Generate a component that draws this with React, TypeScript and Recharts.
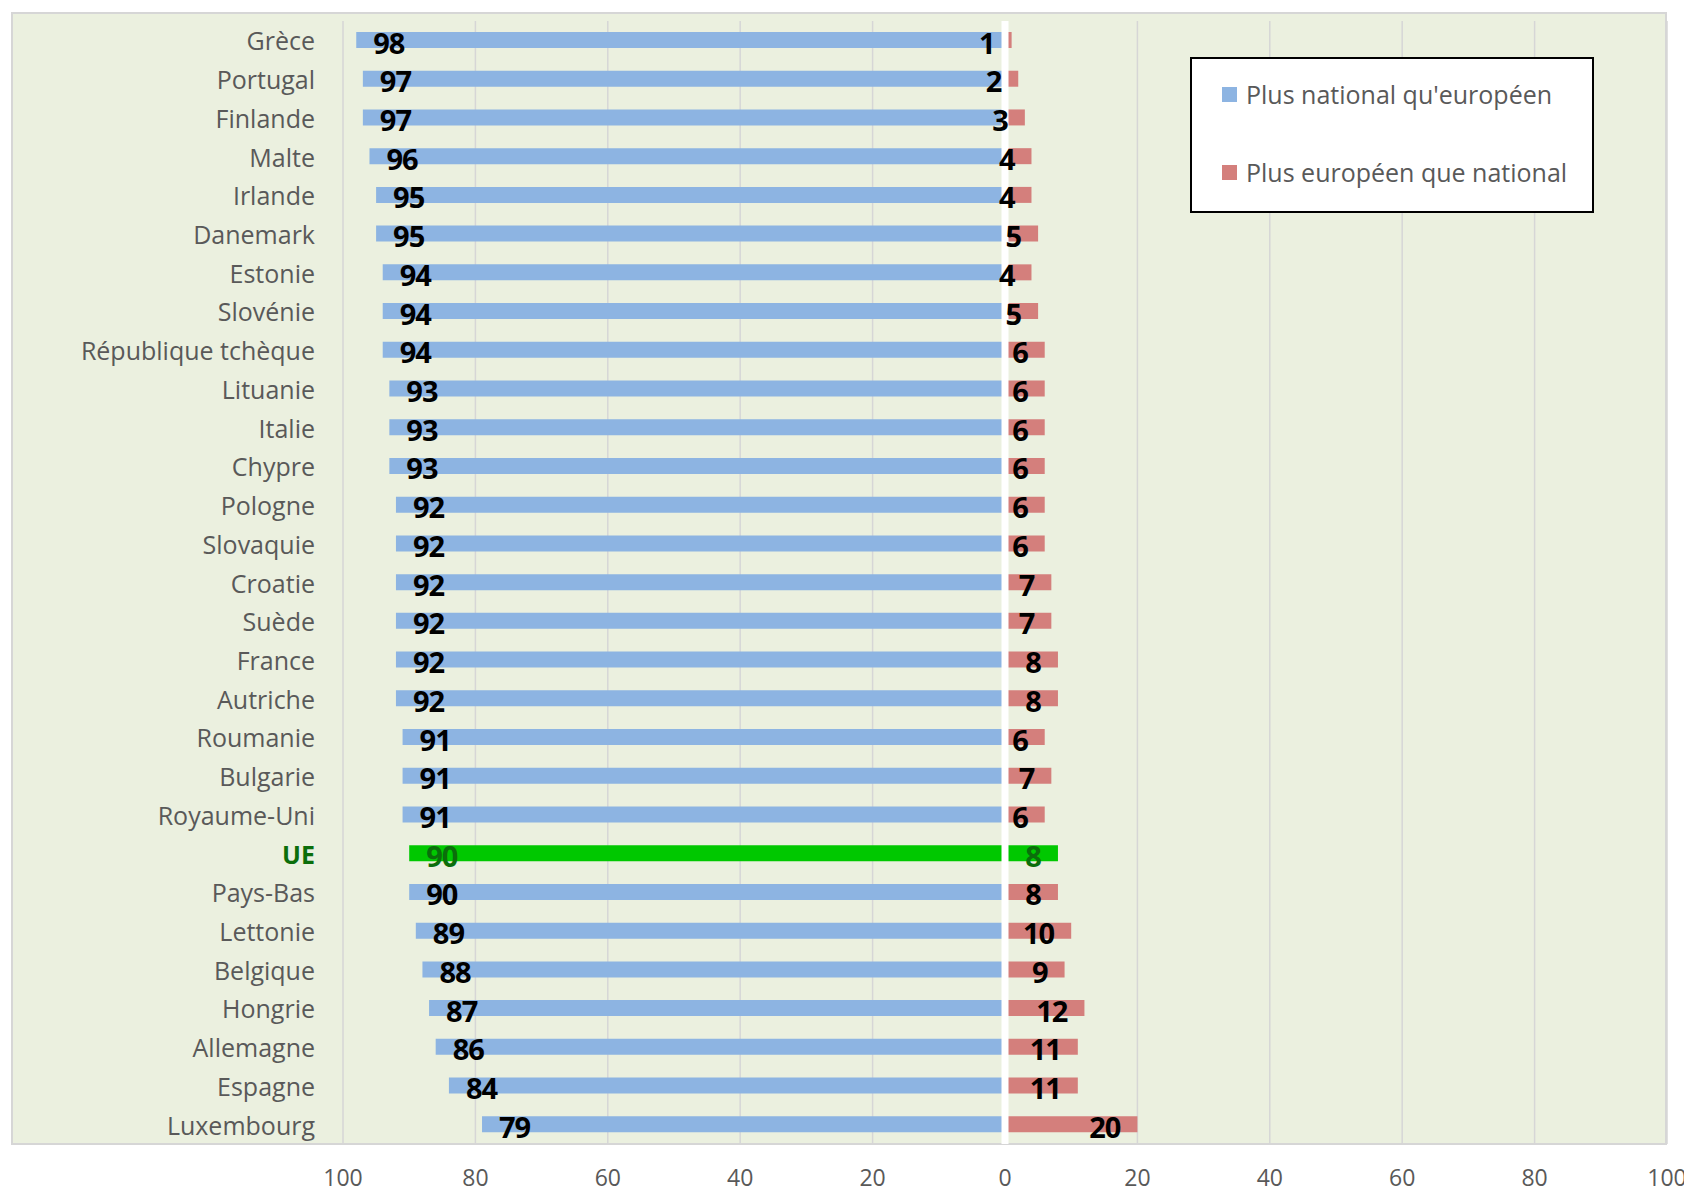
import React from 'react';
import {
  BarChart,
  Bar,
  XAxis,
  YAxis,
  CartesianGrid,
  ReferenceLine,
  LabelList,
  Cell,
  Legend,
} from 'recharts';

const categories = [
  'Grèce', 'Portugal', 'Finlande', 'Malte', 'Irlande', 'Danemark', 'Estonie', 'Slovénie',
  'République tchèque', 'Lituanie', 'Italie', 'Chypre', 'Pologne', 'Slovaquie', 'Croatie',
  'Suède', 'France', 'Autriche', 'Roumanie', 'Bulgarie', 'Royaume-Uni', 'UE', 'Pays-Bas',
  'Lettonie', 'Belgique', 'Hongrie', 'Allemagne', 'Espagne', 'Luxembourg',
];
const nationalValues = [
  98, 97, 97, 96, 95, 95, 94, 94, 94, 93, 93, 93, 92, 92, 92, 92, 92, 92, 91, 91, 91, 90, 90,
  89, 88, 87, 86, 84, 79,
];
const europeanValues = [
  1, 2, 3, 4, 4, 5, 4, 5, 6, 6, 6, 6, 6, 6, 7, 7, 8, 8, 6, 7, 6, 8, 8, 10, 9, 12, 11, 11, 20,
];
const xTicks = [-100, -80, -60, -40, -20, 0, 20, 40, 60, 80, 100];
const seriesNames = ["Plus national qu'européen", 'Plus européen que national'];
const highlight = 'UE';

const BLUE = '#8DB4E2';
const RED = '#D47F7C';
const GREEN = '#00C800';
const DARK_GREEN = '#0B6E0B';
const GRAY_TEXT = '#595959';
const FONT = "'Open Sans', sans-serif";

const data = categories.map((name, i) => ({
  name,
  national: -nationalValues[i],
  european: europeanValues[i],
}));

const CategoryTick = (props: any) => {
  const { x, y, payload } = props;
  const isHi = payload.value === highlight;
  return (
    <text
      x={x}
      y={y}
      textAnchor="end"
      dominantBaseline="central"
      fontFamily={FONT}
      fontSize={25}
      fontWeight={isHi ? 700 : 400}
      fill={isHi ? DARK_GREEN : GRAY_TEXT}
    >
      {payload.value}
    </text>
  );
};

const makeLabel = (side: 'left' | 'right') => (props: any) => {
  const { x, y, width, height, value, index } = props;
  const left = Math.min(x, x + width);
  const right = Math.max(x, x + width);
  const isHi = categories[index] === highlight;
  const tx = side === 'left' ? left + 17 : right - 17;
  return (
    <text
      x={tx}
      y={y + height / 2 + 2}
      textAnchor={side === 'left' ? 'start' : 'end'}
      dominantBaseline="central"
      fontFamily={FONT}
      fontSize={29}
      fontWeight={700}
      letterSpacing={-1}
      fill={isHi ? DARK_GREEN : '#000'}
    >
      {Math.abs(Number(value))}
    </text>
  );
};

const LegendBox = () => (
  <div
    style={{
      width: '100%',
      height: '100%',
      boxSizing: 'border-box',
      border: '2px solid #000',
      background: '#fff',
      fontFamily: FONT,
      fontSize: 25,
      color: GRAY_TEXT,
      position: 'relative',
    }}
  >
    {seriesNames.map((n, i) => (
      <div
        key={n}
        style={{
          position: 'absolute',
          left: 30,
          top: i === 0 ? 17 : 95,
          height: 36,
          display: 'flex',
          alignItems: 'center',
          whiteSpace: 'nowrap',
        }}
      >
        <span
          style={{
            display: 'inline-block',
            width: 15,
            height: 15,
            background: i === 0 ? BLUE : RED,
            marginRight: 9,
          }}
        />
        <span>{n}</span>
      </div>
    ))}
  </div>
);

export default function App() {
  return (
    <div style={{ position: 'relative', width: 1684, height: 1184 }}>
      <div
        style={{
          position: 'absolute',
          left: 3,
          top: 4,
          width: 1656,
          height: 1133,
          boxSizing: 'border-box',
          background: '#EBF0DF',
          border: '2px solid #D6D6D6',
        }}
      />
      <div style={{ position: 'absolute', left: 0, top: 0 }}>
        <BarChart
          width={1684}
          height={1184}
          data={data}
          layout="vertical"
          stackOffset="sign"
          margin={{ top: 13, right: 25, bottom: 8, left: 0 }}
        >
          <CartesianGrid horizontal={false} stroke="#D6D6D6" strokeWidth={1.5} />
          <XAxis
            type="number"
            domain={[-100, 100]}
            ticks={xTicks}
            tickFormatter={(v: number) => String(Math.abs(v))}
            axisLine={false}
            tickLine={false}
            tickSize={0}
            tickMargin={26}
            height={40}
            tick={{ fill: GRAY_TEXT, fontSize: 23, fontFamily: FONT }}
          />
          <YAxis
            type="category"
            dataKey="name"
            width={335}
            axisLine={false}
            tickLine={false}
            tickSize={0}
            tickMargin={28}
            interval={0}
            tick={<CategoryTick />}
          />
          <Bar dataKey="national" stackId="s" barSize={16} fill={BLUE} isAnimationActive={false}>
            {data.map((d) => (
              <Cell key={d.name} fill={d.name === highlight ? GREEN : BLUE} />
            ))}
            <LabelList dataKey="national" content={makeLabel('left')} />
          </Bar>
          <Bar dataKey="european" stackId="s" barSize={16} fill={RED} isAnimationActive={false}>
            {data.map((d) => (
              <Cell key={d.name} fill={d.name === highlight ? GREEN : RED} />
            ))}
            <LabelList dataKey="european" content={makeLabel('right')} />
          </Bar>
          <ReferenceLine x={0} stroke="#FFFFFF" strokeWidth={7} />
          <Legend
            layout="horizontal"
            verticalAlign="middle"
            align="center"
            content={() => <LegendBox />}
            wrapperStyle={{ left: 1182, top: 49, width: 404, height: 156 }}
          />
        </BarChart>
      </div>
    </div>
  );
}
